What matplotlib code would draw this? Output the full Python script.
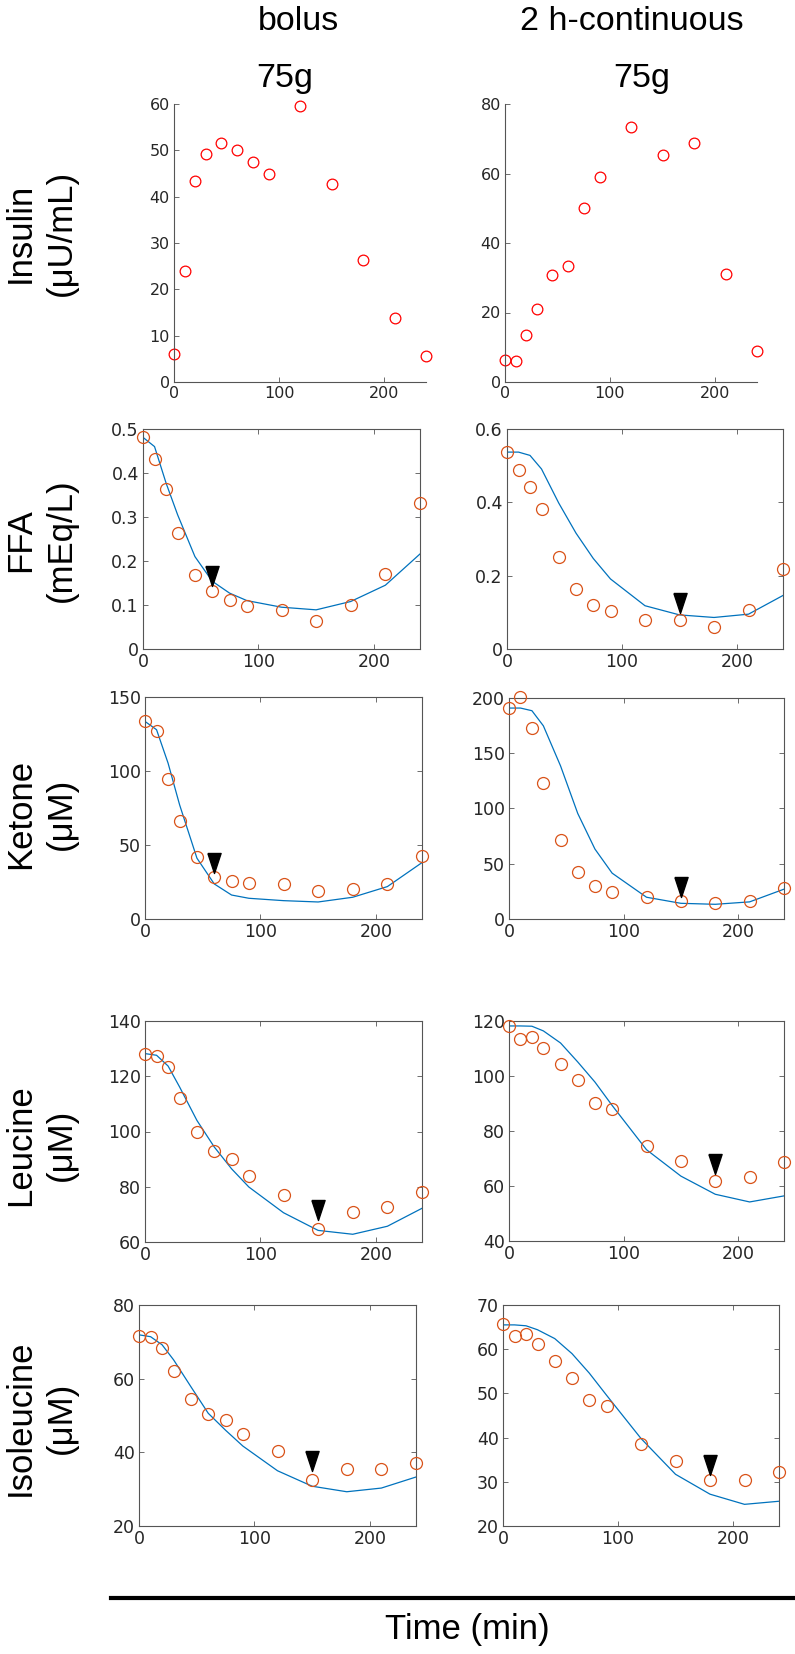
import matplotlib
matplotlib.use('Agg')
import matplotlib.pyplot as plt
from matplotlib.lines import Line2D
import numpy as np

# sampling times (min)
t = [0, 10, 20, 30, 45, 60, 75, 90, 120, 150, 180, 210, 240]

# insulin (uU/mL)
ins_bolus = [6.0, 23.9, 43.4, 49.3, 51.6, 50.1, 47.4, 45.0, 59.5, 42.7, 26.3, 13.8, 5.7]
ins_cont = [6.4, 6.1, 13.5, 20.9, 30.7, 33.5, 50.1, 58.9, 73.4, 65.4, 68.9, 31.1, 8.9]

# FFA (mEq/L): measured / model
ffa_bolus = [0.481, 0.432, 0.364, 0.263, 0.169, 0.131, 0.112, 0.097, 0.089, 0.063, 0.101, 0.170, 0.331]
ffa_bolus_sim = [0.481, 0.46, 0.377, 0.305, 0.21, 0.154, 0.127, 0.110, 0.095, 0.089, 0.108, 0.145, 0.216]
ffa_cont = [0.536, 0.489, 0.441, 0.382, 0.250, 0.165, 0.119, 0.104, 0.078, 0.080, 0.060, 0.106, 0.218]
ffa_cont_sim = [0.537, 0.537, 0.528, 0.491, 0.398, 0.316, 0.247, 0.191, 0.118, 0.093, 0.086, 0.095, 0.146]

# ketone (uM)
ket_bolus = [133.5, 126.8, 94.5, 66.3, 42.2, 28.6, 25.7, 24.6, 23.5, 19.2, 20.1, 23.9, 42.6]
ket_bolus_sim = [133.5, 127.9, 105.3, 77.1, 41.1, 23.7, 16.2, 14.0, 12.4, 11.5, 14.7, 21.9, 38.1]
ket_cont = [190.6, 200.6, 172.4, 123.0, 71.2, 42.4, 30.0, 24.8, 19.7, 16.7, 14.2, 16.7, 28.5]
ket_cont_sim = [190.9, 190.9, 188.5, 174.8, 138.5, 95.5, 63.3, 41.5, 19.7, 14.2, 13.3, 15.5, 27.0]

# leucine (uM)
leu_bolus = [128.2, 127.2, 123.3, 112.2, 99.8, 92.9, 90.2, 83.9, 76.9, 64.8, 70.7, 72.6, 78.1]
leu_bolus_sim = [128.2, 127.6, 123.7, 116.1, 104.0, 94.4, 86.5, 79.9, 70.6, 64.2, 62.8, 65.7, 72.2]
leu_cont = [118.1, 113.5, 114.1, 110.3, 104.5, 98.4, 90.3, 87.9, 74.4, 69.1, 61.8, 63.2, 68.7]
leu_cont_sim = [118.2, 118.2, 118.1, 116.4, 112.0, 105.1, 97.8, 89.3, 73.2, 63.6, 57.0, 54.2, 56.4]

# isoleucine (uM)
ile_bolus = [71.6, 71.2, 68.4, 62.1, 54.6, 50.4, 48.9, 44.9, 40.3, 32.6, 35.4, 35.4, 37.2]
ile_bolus_sim = [71.9, 71.4, 69.2, 65.1, 57.8, 50.6, 46.0, 41.7, 35.0, 30.8, 29.3, 30.3, 33.3]
ile_cont = [65.6, 62.9, 63.4, 61.1, 57.3, 53.5, 48.5, 47.2, 38.6, 34.8, 30.3, 30.3, 32.2]
ile_cont_sim = [65.5, 65.5, 65.3, 64.4, 62.4, 59.0, 54.6, 49.6, 39.8, 31.7, 27.2, 24.9, 25.6]

# arrowheads (time, level)
ffa_bolus_arrow = (60, 0.165)
ffa_cont_arrow = (150, 0.125)
ket_bolus_arrow = (60, 37.7)
ket_cont_arrow = (150, 28.8)
leu_bolus_arrow = (150, 71.5)
leu_cont_arrow = (180, 68.1)
ile_bolus_arrow = (150, 37.7)
ile_cont_arrow = (180, 33.7)

W, H = 795, 1654
fig = plt.figure(figsize=(W / 100, H / 100), dpi=100)

ORANGE = '#D95319'
BLUE = '#0072BD'
AXC = '#262626'
tri = [(-0.33, 0.5), (0.33, 0.5), (0, -0.5), (-0.33, 0.5)]


def make_ax(x0, y0, x1, y1):
    return fig.add_axes([x0 / W, 1 - y1 / H, (x1 - x0) / W, (y1 - y0) / H])


def style(ax, yticks, box=True, fs=12.5):
    ax.set_xlim(0, 240)
    ax.set_ylim(yticks[0], yticks[-1])
    ax.set_xticks([0, 100, 200])
    ax.set_yticks(yticks)
    ax.set_yticklabels([('%g' % v) for v in yticks])
    for s in ax.spines.values():
        s.set_color('#555555')
        s.set_linewidth(0.8)
    if not box:
        ax.spines['top'].set_visible(False)
        ax.spines['right'].set_visible(False)
    ax.tick_params(direction='in', length=3.5, width=0.6, colors='#555555',
                   labelcolor=AXC, labelsize=fs, pad=3,
                   top=box, right=box)
    for lab in ax.get_xticklabels() + ax.get_yticklabels():
        lab.set_family('DejaVu Sans')


def insulin_panel(box, vals, yticks):
    ax = make_ax(*box)
    ax.plot(t, vals, 'o', mfc='none', mec='red', ms=7.7, mew=0.9, clip_on=False)
    style(ax, yticks, box=False, fs=11.5)
    return ax


def model_panel(box, obs, sim, arrow, yticks):
    ax = make_ax(*box)
    ax.plot(t, sim, '-', color=BLUE, lw=0.9)
    ax.plot(t, obs, 'o', mfc='none', mec=ORANGE, ms=8.6, mew=0.9, clip_on=False, zorder=3)
    ax.plot([arrow[0]], [arrow[1]], marker=tri, color='black', ms=14.4, ls='none', zorder=4)
    style(ax, yticks)
    return ax


insulin_panel((174, 104, 426, 382), ins_bolus, [0, 10, 20, 30, 40, 50, 60])
insulin_panel((505, 104, 757, 382), ins_cont, [0, 20, 40, 60, 80])

model_panel((143, 429, 420, 649), ffa_bolus, ffa_bolus_sim, ffa_bolus_arrow, [0, 0.1, 0.2, 0.3, 0.4, 0.5])
model_panel((507, 429, 783, 649), ffa_cont, ffa_cont_sim, ffa_cont_arrow, [0, 0.2, 0.4, 0.6])

model_panel((145, 697, 422, 919), ket_bolus, ket_bolus_sim, ket_bolus_arrow, [0, 50, 100, 150])
model_panel((509, 698, 784, 919), ket_cont, ket_cont_sim, ket_cont_arrow, [0, 50, 100, 150, 200])

model_panel((145, 1021, 422, 1242), leu_bolus, leu_bolus_sim, leu_bolus_arrow, [60, 80, 100, 120, 140])
model_panel((509, 1021, 784, 1241), leu_cont, leu_cont_sim, leu_cont_arrow, [40, 60, 80, 100, 120])

model_panel((139, 1305, 416, 1526), ile_bolus, ile_bolus_sim, ile_bolus_arrow, [20, 40, 60, 80])
model_panel((503, 1305, 779, 1526), ile_cont, ile_cont_sim, ile_cont_arrow, [20, 30, 40, 50, 60, 70])

# column headers
hfont = dict(family='Liberation Sans', fontsize=24.5, ha='center', va='baseline')
fig.text(298 / W, 1 - 30 / H, 'bolus', **hfont)
fig.text(285 / W, 1 - 87 / H, '75g', **hfont)
fig.text(632 / W, 1 - 30 / H, '2 h-continuous', **hfont)
fig.text(642 / W, 1 - 87 / H, '75g', **hfont)

# row labels
row_labels = ['Insulin\n(μU/mL)', 'FFA\n(mEq/L)', 'Ketone\n(μM)', 'Leucine\n(μM)', 'Isoleucine\n(μM)']
row_y = [233, 540, 814, 1145, 1418]
for lab, yy in zip(row_labels, row_y):
    fig.text(41 / W, 1 - yy / H, lab, family='Liberation Sans', fontsize=25,
             rotation=90, ha='center', va='center', multialignment='center',
             linespacing=1.3)

# time axis bar
fig.add_artist(Line2D([111 / W, 1.0], [1 - 1598 / H, 1 - 1598 / H],
                      color='black', lw=3, transform=fig.transFigure))
fig.text(467 / W, 1 - 1630 / H, 'Time (min)', family='Liberation Sans',
         fontsize=25, ha='center', va='center')

fig.savefig('out.png', dpi=100)
